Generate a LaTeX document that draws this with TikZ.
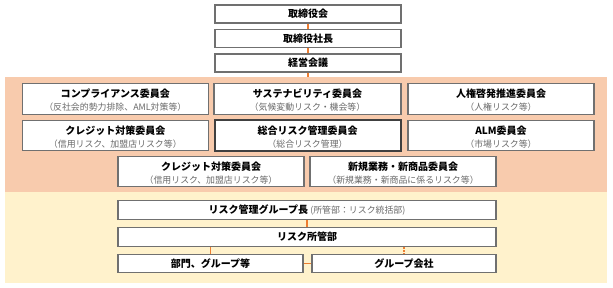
\documentclass[tikz,border=0pt]{standalone}
\usepackage{fontspec}
\setmainfont{Noto Sans CJK JP}
\usetikzlibrary{calc}
\definecolor{bandO}{HTML}{F8CBAD}
\definecolor{bandY}{HTML}{FFF2CC}
\definecolor{connO}{HTML}{ED7D31}
\definecolor{boxline}{HTML}{707070}
\definecolor{subgray}{HTML}{6A6A6A}
\tikzset{
  box/.style={draw=boxline, line width=1.1bp, fill=white, inner sep=0pt, anchor=center},
  keybox/.style={box, draw=black!75, line width=2bp},
  ttl/.style={font=\fontsize{10bp}{12bp}\selectfont\bfseries, inner sep=0pt, text=black},
  subt/.style={font=\fontsize{8.9bp}{10bp}\selectfont, inner sep=0pt, text=subgray},
  lowt/.style={font=\fontsize{10bp}{12bp}\selectfont\bfseries, inner sep=0pt, text=black},
  conn/.style={draw=connO, line width=1.2bp},
  dconn/.style={conn, dash pattern=on 1.2bp off 1.2bp},
}
\newcommand{\cbox}[7][box]{%
  \node[#1, minimum width=#5bp, minimum height=30.5bp] (#2) at (#3,#4) {};
  \node[ttl] (#2t) at ($(#2.center)+(0,-5)$) {#6};
  \node[subt] (#2s) at ($(#2.center)+(0,8.3)$) {#7};
}
\begin{document}
\begin{tikzpicture}[x=1bp,y=-1bp]
\useasboundingbox (0,0) rectangle (613,287);
% bands
\fill[bandO] (5,77) rectangle (607,192);
\fill[bandY] (5,192) rectangle (607,283);
\coordinate (bandtop) at (308,77);
% top boxes
\node[box, minimum width=186bp, minimum height=18bp] (t1) at (308,14) {};
\node[ttl] (t1t) at (t1.center) {取締役会};
\node[box, minimum width=186bp, minimum height=18.5bp] (t2) at (308,38.5) {};
\node[ttl] (t2t) at (t2.center) {取締役社長};
\node[box, minimum width=186bp, minimum height=18bp] (t3) at (308,63) {};
\node[ttl] (t3t) at (t3.center) {経営会議};
\draw[conn] (t1.south) -- (t2.north);
\draw[conn] (t2.south) -- (t3.north);
\draw[conn] (t3.south) -- (bandtop);
% committees
\cbox{r1a}{115.3}{99}{185.5}{コンプライアンス委員会}{（反社会的勢力排除、AML対策等）}
\cbox{r1b}{307.5}{99}{187}{サステナビリティ委員会}{（気候変動リスク・機会等）}
\cbox{r1c}{501}{99}{186}{人権啓発推進委員会}{（人権リスク等）}
\cbox{r2a}{115.3}{135.5}{185.5}{クレジット対策委員会}{（信用リスク、加盟店リスク等）}
\cbox[keybox]{r2b}{307.5}{135.5}{186}{総合リスク管理委員会}{（総合リスク管理）}
\cbox{r2c}{501}{135.5}{186}{ALM委員会}{（市場リスク等）}
\cbox{r3a}{211}{171.5}{186}{クレジット対策委員会}{（信用リスク、加盟店リスク等）}
\cbox{r3b}{403}{171.5}{186}{新規業務・新商品委員会}{（新規業務・新商品に係るリスク等）}
% risk management
\node[box, minimum width=378bp, minimum height=18.5bp] (g1) at (307,210) {};
\node[lowt] (g1t) at (g1.center) {リスク管理グループ長\ {\fontsize{8.9bp}{10bp}\selectfont\mdseries\color{subgray}(所管部：リスク統括部)}};
\node[box, minimum width=378bp, minimum height=18.5bp] (g2) at (307,236.8) {};
\node[lowt] (g2t) at (g2.center) {リスク所管部};
\node[box, minimum width=185bp, minimum height=18bp] (g3a) at (210.5,263.5) {};
\node[lowt] (g3at) at (g3a.center) {部門、グループ等};
\node[box, minimum width=184bp, minimum height=18bp] (g3b) at (404,263.5) {};
\node[lowt] (g3bt) at (g3b.center) {グループ会社};
\draw[conn] (g1.south) -- (g2.north);
\draw[conn] (g3a.north) -- (g3a.north |- g2.south);
\draw[dconn] (g3b.north) -- (g3b.north |- g2.south);
\draw[conn] (g3a.east) -- (g3b.west);
\end{tikzpicture}
\end{document}
